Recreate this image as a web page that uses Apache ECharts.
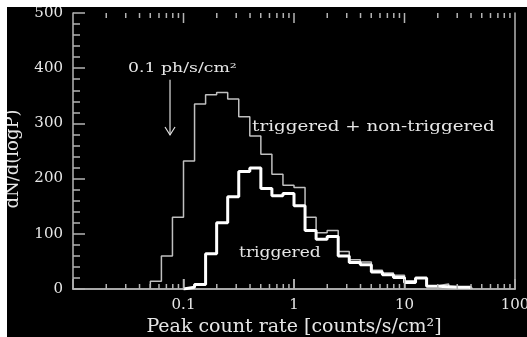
<!DOCTYPE html>
<html><head><meta charset="utf-8">
<script src="https://cdn.jsdelivr.net/npm/echarts@6/dist/echarts.min.js"></script>
<style>
html,body{margin:0;padding:0;background:#fff;width:527px;height:337px;overflow:hidden}
#c{position:absolute;left:7px;top:7px;width:520px;height:330px;background:#000}
</style>
</head><body><div id="c"></div>
<script>
// bin edges in log10(peak count rate)
const binEdgesLog = [-1.3,-1.2,-1.1,-1.0,-0.9,-0.8,-0.7,-0.6,-0.5,-0.4,-0.3,-0.2,-0.1,0.0,0.1,0.2,0.3,0.4,0.5,0.6,0.7,0.8,0.9,1.0,1.1,1.2,1.3,1.4,1.5,1.6];
// triggered + non-triggered
const allCounts = [14,60,130,232,335,352,356,344,312,277,244,208,188,184,130,102,106,68,53,49,34,29,25,15,20,6,9,4,4];
// triggered only
const trigCounts = [0,0,0,3,8,64,120,167,213,219,182,169,173,151,106,90,95,60,48,44,31,26,21,12,20,5,4,3,3];

const xMin = 0.01, xMax = 100;
const yMin = 0, yMax = 500, yStep = 100;
const xMajorTicks = [0.1, 1, 10];
const xMinorTicks = [0.02,0.03,0.04,0.05,0.06,0.07,0.08,0.09,0.2,0.3,0.4,0.5,0.6,0.7,0.8,0.9,2,3,4,5,6,7,8,9,20,30,40,50,60,70,80,90];
const xTickLabels = {'0.1': '0.1', '1': '1', '10': '10', '100': '100'};

const arrowX = 0.0755, arrowFrom = 379, arrowTo = 279;
const notes = [
  {x: 0.0315, y: 400, text: '0.1 ph/s/cm²', size: 13, sx: 1.33},
  {x: 0.417, y: 293, text: 'triggered + non-triggered', size: 15, sx: 1.22},
  {x: 0.318, y: 65, text: 'triggered', size: 15, sx: 1.14}
];

const FONT = 'DejaVu Serif';
const AX = '#b4b4b4';
const TXT = '#e6e6e6';

function stepPoints(counts) {
  let first = counts.findIndex(v => v > 0);
  const pts = [];
  pts.push([Math.pow(10, binEdgesLog[first]), 0]);
  for (let i = first; i < counts.length; i++) {
    pts.push([Math.pow(10, binEdgesLog[i]), counts[i]]);
    pts.push([Math.pow(10, binEdgesLog[i + 1]), counts[i]]);
  }
  pts.push([Math.pow(10, binEdgesLog[counts.length]), 0]);
  return pts;
}

const tickItems = xMinorTicks.map(v => [v, 5]).concat(xMajorTicks.map(v => [v, 10]));

const chart = echarts.init(document.getElementById('c'), null, {renderer: 'canvas'});
chart.setOption({
  backgroundColor: '#000',
  animation: false,
  grid: {left: 66, top: 6, right: 12, bottom: 48, containLabel: false, outerBoundsMode: 'none'},
  xAxis: [{
    type: 'log', logBase: 10, min: xMin, max: xMax, position: 'bottom',
    name: 'Peak count rate [counts/s/cm²]', nameLocation: 'middle', nameGap: 25,
    nameTextStyle: {color: TXT, fontFamily: FONT, fontSize: 19},
    axisLine: {show: true, lineStyle: {color: AX, width: 1.5}},
    axisTick: {show: true, inside: true, length: 10, lineStyle: {color: AX, width: 1.5}},
    axisLabel: {color: TXT, fontFamily: FONT, fontSize: 15, margin: 9,
      formatter: v => (xTickLabels[String(v)] || '')},
    splitLine: {show: false}
  }, {
    type: 'log', logBase: 10, min: xMin, max: xMax, position: 'top',
    axisLine: {show: true, lineStyle: {color: AX, width: 1.5}},
    axisTick: {show: false},
    axisLabel: {show: false}, splitLine: {show: false}
  }],
  yAxis: [{
    type: 'value', min: yMin, max: yMax, interval: yStep, position: 'left',
    name: 'dN/d(logP)', nameLocation: 'middle', nameGap: 51, nameRotate: 90,
    nameTextStyle: {color: TXT, fontFamily: FONT, fontSize: 18, padding: [0, 16, 0, 0]},
    axisLine: {show: true, lineStyle: {color: AX, width: 1.5}},
    axisTick: {show: true, inside: true, length: 12, lineStyle: {color: AX, width: 1.5}},
    minorTick: {show: true, splitNumber: 5, length: 7, lineStyle: {color: AX, width: 1.5}},
    axisLabel: {color: TXT, fontFamily: FONT, fontSize: 15, margin: 10},
    splitLine: {show: false}
  }, {
    type: 'value', min: yMin, max: yMax, interval: yStep, position: 'right',
    axisLine: {show: true, lineStyle: {color: AX, width: 1.5}},
    axisTick: {show: false}, axisLabel: {show: false}, splitLine: {show: false}
  }],
  series: [{
    type: 'line', data: stepPoints(allCounts), showSymbol: false, symbol: 'none',
    lineStyle: {color: '#c0c0c0', width: 1.5}, z: 3
  }, {
    type: 'line', data: stepPoints(trigCounts), showSymbol: false, symbol: 'none',
    lineStyle: {color: '#ffffff', width: 3}, z: 4
  }, {
    type: 'custom', z: 5, silent: true,
    data: tickItems,
    renderItem: function (params, api) {
      const len = api.value(1);
      const b = api.coord([api.value(0), yMin]);
      const t = api.coord([api.value(0), yMax]);
      return {type: 'group', children: [
        {type: 'line', shape: {x1: b[0], y1: b[1], x2: b[0], y2: b[1] - len}, style: {stroke: AX, lineWidth: 1.5}},
        {type: 'line', shape: {x1: t[0], y1: t[1], x2: t[0], y2: t[1] + len}, style: {stroke: AX, lineWidth: 1.5}}
      ]};
    }
  }, {
    type: 'custom', z: 6, silent: true,
    data: [[arrowX, arrowFrom, arrowTo]],
    renderItem: function (params, api) {
      const a = api.coord([api.value(0), api.value(1)]);
      const b = api.coord([api.value(0), api.value(2)]);
      return {type: 'group', children: [
        {type: 'line', shape: {x1: a[0], y1: a[1], x2: b[0], y2: b[1]}, style: {stroke: '#e0e0e0', lineWidth: 1.2}},
        {type: 'polyline', shape: {points: [[b[0] - 5, b[1] - 8], [b[0], b[1]], [b[0] + 5, b[1] - 8]]}, style: {stroke: '#e0e0e0', lineWidth: 1.2, fill: null}}
      ]};
    }
  }, {
    type: 'custom', z: 7, silent: true,
    data: notes.map(n => [n.x, n.y]),
    renderItem: function (params, api) {
      const n = notes[params.dataIndex];
      const p = api.coord([api.value(0), api.value(1)]);
      return {type: 'text', x: p[0], y: p[1], scaleX: n.sx, style: {
        text: n.text, fill: TXT, fontFamily: FONT, fontSize: n.size,
        align: 'left', verticalAlign: 'middle'}};
    }
  }]
});
</script>
</body></html>
